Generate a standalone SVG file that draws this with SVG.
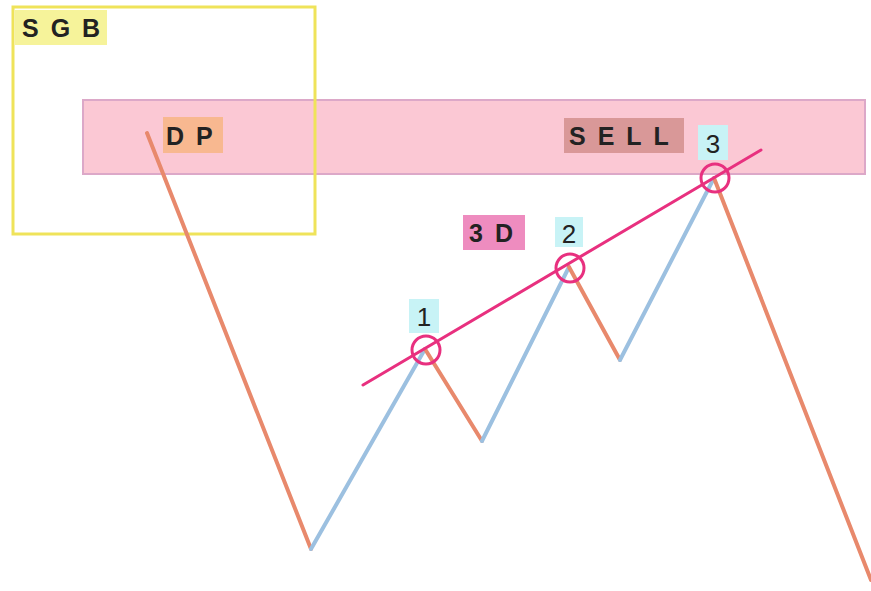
<svg xmlns="http://www.w3.org/2000/svg" width="871" height="591" viewBox="0 0 871 591">
  <style>
    .lbl { font-family: "Liberation Sans", Arial, sans-serif; font-size: 25px; font-weight: bold; fill: #222; letter-spacing: 12px; }
    .num { font-family: "Liberation Sans", Arial, sans-serif; font-size: 26px; fill: #222; }
    .down { stroke: #e8896c; stroke-width: 4; fill: none; stroke-linecap: round; }
    .up { stroke: #9cc0e0; stroke-width: 4; fill: none; stroke-linecap: round; }
    .mark { stroke: #e8307f; stroke-width: 3; fill: none; }
  </style>
  <rect width="871" height="591" fill="#ffffff"/>

  <!-- supply zone band -->
  <g id="zone">
    <rect x="83" y="100" width="782" height="74" fill="#fbc8d4" stroke="#dca8c8" stroke-width="2"/>
  </g>

  <!-- SGB box -->
  <g id="sgb">
    <rect x="13" y="7" width="302" height="227" fill="none" stroke="#efe35a" stroke-width="3"/>
    <rect x="15" y="10" width="92" height="35" fill="#f6f39a"/>
    <text class="lbl" x="22" y="37">SGB</text>
  </g>

  <g id="dp">
    <rect x="163" y="117" width="60" height="36" fill="#f8b890"/>
    <text class="lbl" x="166" y="145" letter-spacing="13">DP</text>
  </g>

  <g id="sell">
    <rect x="564" y="118" width="120" height="35" fill="#d99898"/>
    <text class="lbl" x="569" y="145">SELL</text>
  </g>

  <g id="label3d">
    <rect x="463" y="215" width="62" height="35" fill="#ee8cbf"/>
    <text class="lbl" x="469" y="242">3D</text>
  </g>

  <!-- price path -->
  <g id="connectors">
    <path class="down" d="M147 133 L311 549"/>
    <path class="up" d="M311 549 L425 349"/>
    <path class="down" d="M425 349 L482 441"/>
    <path class="up" d="M482 441 L569 267"/>
    <path class="down" d="M569 267 L620 360"/>
    <path class="up" d="M620 360 L714 178"/>
    <path class="down" d="M714 178 L871 580"/>
    <path class="mark" d="M363 385 L761 150" stroke-linecap="round"/>
  </g>

  <g id="point1">
    <circle class="mark" cx="426" cy="350" r="14"/>
    <rect x="409" y="299" width="30" height="34" fill="#c8f3f6"/>
    <text class="num" x="424" y="326" text-anchor="middle">1</text>
  </g>
  <g id="point2">
    <circle class="mark" cx="570" cy="268" r="14"/>
    <rect x="555" y="217" width="28" height="30" fill="#c8f3f6"/>
    <text class="num" x="569" y="243" text-anchor="middle">2</text>
  </g>
  <g id="point3">
    <circle class="mark" cx="715" cy="178" r="14"/>
    <rect x="698" y="125" width="30" height="35" fill="#c8f3f6"/>
    <text class="num" x="713" y="153" text-anchor="middle">3</text>
  </g>
</svg>
